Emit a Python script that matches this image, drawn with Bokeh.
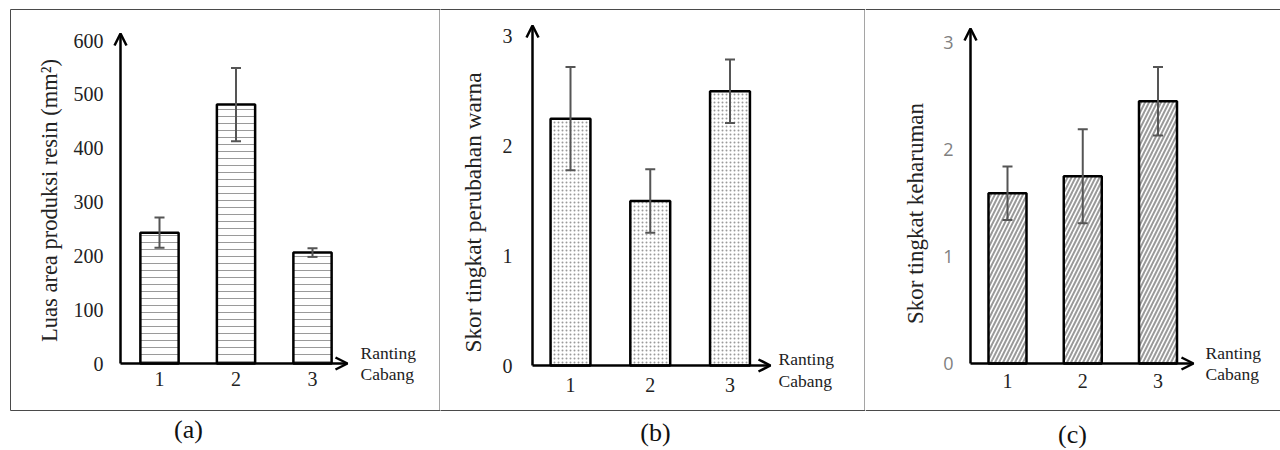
import math
from bokeh.plotting import figure
from bokeh.models import (ColumnDataSource, Whisker, TeeHead, Arrow, OpenHead,
                          FixedTicker, Label, BoxAnnotation, Span, Range1d)
from bokeh.layouts import row
from bokeh.embed import file_html
from bokeh.resources import INLINE

# ---- data ----
categories = [1, 2, 3]
category_labels = ["1", "2", "3"]
resin_area = [243, 481, 206]
resin_err = [28, 68, 8]
color_score = [2.25, 1.50, 2.50]
color_err = [0.47, 0.29, 0.29]
aroma_score = [1.59, 1.75, 2.45]
aroma_err = [0.25, 0.44, 0.32]
resin_ticks = [0, 100, 200, 300, 400, 500, 600]
score_ticks = [0, 1, 2, 3]
captions = ["(a)", "(b)", "(c)"]
y_titles = ["Luas area produksi resin (mm²)", "Skor tingkat perubahan warna", "Skor tingkat keharuman"]
x_title_lines = ["Ranting", "Cabang"]

SERIF = "Liberation Serif"
H = 448


def make_panel(geo, values, errs, ticks, ytitle, style):
    left, width = geo["left"], geo["width"]
    x1, xppu, y0, yppu = geo["x1"], geo["xppu"], geo["y0"], geo["yppu"]

    def dx(px):
        return 1 + (px - x1) / xppu

    def dy(py):
        return (y0 - py) / yppu

    p = figure(width=width, height=H, x_range=Range1d(dx(left), dx(left + width)),
               y_range=Range1d(dy(H), dy(0)), output_backend="svg", toolbar_location=None,
               min_border=0, min_border_left=0, min_border_right=0, min_border_top=0,
               min_border_bottom=0)
    p.xgrid.visible = False
    p.ygrid.visible = False
    p.outline_line_color = None
    p.background_fill_color = "white"
    p.border_fill_color = "white"

    # panel frame lines
    b = geo["box"]
    if b is not None:
        p.add_layout(BoxAnnotation(left=dx(b[0]), right=dx(b[1]), top=dy(9), bottom=dy(410),
                                   fill_color=None, fill_alpha=0, line_color="#4a4a4a",
                                   line_width=1, line_alpha=1, level="underlay"))
    else:
        for py in (9, 410):
            p.add_layout(Span(location=dy(py), dimension="width", line_color="#4a4a4a",
                              line_width=1, level="underlay"))

    src = ColumnDataSource(dict(x=categories, top=values,
                                upper=[v + e for v, e in zip(values, errs)],
                                lower=[v - e for v, e in zip(values, errs)]))
    p.vbar(x="x", top="top", bottom=0, width=style["bar_w"], source=src, fill_color="white",
           line_color="black", line_width=2.5, hatch_pattern=style["hatch"],
           hatch_scale=style["hscale"], hatch_weight=style["hweight"], hatch_color="#9a9a9a")
    p.add_layout(Whisker(base="x", upper="upper", lower="lower", source=src,
                         line_color="#555555", line_width=2, level="overlay",
                         upper_head=TeeHead(size=10, line_color="#555555", line_width=2),
                         lower_head=TeeHead(size=10, line_color="#555555", line_width=2)))

    axis_x = dx(geo["axis_px"])
    yax = p.yaxis[0]
    yax.fixed_location = axis_x
    yax.ticker = FixedTicker(ticks=ticks)
    yax.axis_line_color = None
    yax.major_tick_line_color = None
    yax.minor_tick_line_color = None
    yax.major_tick_out = 0
    yax.major_tick_in = 0
    yax.minor_tick_out = 0
    yax.major_label_text_font = style["tick_font"]
    yax.major_label_text_font_size = style["tick_size"]
    yax.major_label_text_color = style["tick_color"]
    yax.major_label_standoff = style["tick_standoff"]

    xax = p.xaxis[0]
    xax.fixed_location = 0
    xax.ticker = FixedTicker(ticks=categories)
    xax.major_label_overrides = {c: l for c, l in zip(categories, category_labels)}
    xax.axis_line_color = None
    xax.major_tick_line_color = None
    xax.minor_tick_line_color = None
    xax.major_tick_out = 0
    xax.major_tick_in = 0
    xax.minor_tick_out = 0
    xax.major_label_text_font = SERIF
    xax.major_label_text_font_size = "20px"
    xax.major_label_text_color = "#222222"
    xax.major_label_standoff = style["x_standoff"]

    # y-axis title (rotated text)
    tx, ty = geo["title_c"]
    p.add_layout(Label(x=dx(tx), y=dy(ty), text=ytitle, angle=math.pi / 2,
                       text_font=SERIF, text_font_size=style["title_size"],
                       text_color="#222222", text_align="center", text_baseline="middle"))

    p.add_layout(Arrow(end=OpenHead(size=12, line_width=2.5, line_color="black"),
                       x_start=axis_x, y_start=0, x_end=axis_x, y_end=dy(geo["arrow_top"]),
                       line_width=2.5, line_color="black"))
    p.add_layout(Arrow(end=OpenHead(size=12, line_width=2.5, line_color="black"),
                       x_start=axis_x, y_start=0, x_end=dx(geo["arrow_right"]), y_end=0,
                       line_width=2.5, line_color="black"))

    for txt, py in zip(x_title_lines, geo["rc_y"]):
        p.add_layout(Label(x=dx(geo["rc_x"]), y=dy(py), text=txt,
                           text_font=SERIF, text_font_size="17.5px", text_color="#222222",
                           text_baseline="middle", text_align="left"))
    p.add_layout(Label(x=dx(geo["cap"][0]), y=dy(geo["cap"][1]), text=geo["caption"],
                       text_font=SERIF, text_font_size="26px", text_color="#111111",
                       text_baseline="middle", text_align="center"))
    return p


geo_a = dict(left=0, width=440, x1=159, xppu=76.5, y0=363, yppu=323 / 600, axis_px=120,
             arrow_top=33, arrow_right=347, rc_x=360, rc_y=[352, 373], cap=(188, 429),
             caption=captions[0], box=(10, 439.5), title_c=(49, 200))
geo_b = dict(left=440, width=425, x1=570, xppu=79.75, y0=365, yppu=109.7, axis_px=532,
             arrow_top=25, arrow_right=770, rc_x=778, rc_y=[358, 380], cap=(655, 432),
             caption=captions[1], box=(420, 864.5), title_c=(472, 212))
geo_c = dict(left=865, width=415, x1=1007, xppu=75.25, y0=363, yppu=107, axis_px=970,
             arrow_top=28, arrow_right=1193, rc_x=1205, rc_y=[352, 373], cap=(1072, 434),
             caption=captions[2], box=None, title_c=(915, 213))

style_a = dict(bar_w=0.5, hatch="-", hscale=7, hweight=1, tick_font=SERIF, tick_size="20px",
               tick_color="#222222", tick_standoff=17, title_size="22.5px", x_standoff=8)
style_b = dict(bar_w=0.5, hatch=".", hscale=4, hweight=1, tick_font=SERIF, tick_size="20px",
               tick_color="#222222", tick_standoff=20, title_size="23.3px", x_standoff=12)
style_c = dict(bar_w=0.505, hatch="/", hscale=8, hweight=2, tick_font="Open Sans",
               tick_size="18px", tick_color="#808080", tick_standoff=17, title_size="23px",
               x_standoff=10)

pa = make_panel(geo_a, resin_area, resin_err, resin_ticks, y_titles[0], style_a)
pb = make_panel(geo_b, color_score, color_err, score_ticks, y_titles[1], style_b)
pc = make_panel(geo_c, aroma_score, aroma_err, score_ticks, y_titles[2], style_c)

layout = row(pa, pb, pc, spacing=0)
open("out.html", "w").write(file_html(layout, INLINE))
